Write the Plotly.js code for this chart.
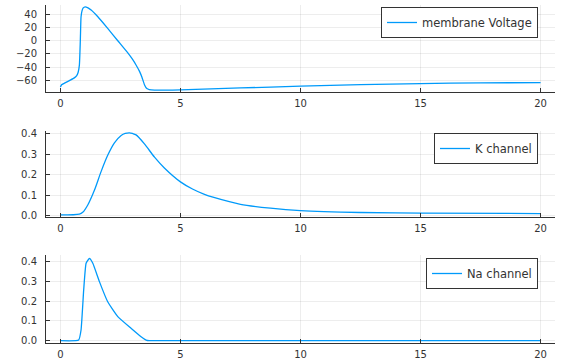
<!DOCTYPE html>
<html>
<head>
<meta charset="utf-8">
<script src="https://cdn.plot.ly/plotly-3.0.1.min.js"></script>
<style>html,body{margin:0;padding:0;background:#fff}#chart{width:567px;height:364px}</style>
</head>
<body>
<div id="chart"></div>
<script>
// Membrane voltage (time, value)
const tV = [0, 0.05, 0.17, 0.375, 0.58, 0.68, 0.74, 0.79, 0.83, 0.86, 0.9, 0.95, 1.03, 1.15, 1.28, 1.56, 1.97, 2.39, 2.8, 3.0, 3.15, 3.3, 3.4, 3.5, 3.6, 3.7, 3.92, 5, 7.5, 10, 12.5, 15, 17.5, 20];
const voltage = [-70.5, -67, -64.7, -60.7, -56.6, -53, -48, -37, 1, 37, 46, 50.5, 52.2, 50.5, 47.2, 37, 19.2, 0.3, -18, -28, -36.8, -47, -56, -67, -73, -74.5, -75.3, -74.8, -72, -69.3, -67, -65.3, -64.3, -63.8];

// K channel
const tK = [0, 0.79, 0.93, 1.14, 1.42, 1.69, 1.97, 2.25, 2.53, 2.7, 2.875, 3.0, 3.15, 3.5, 3.92, 4.33, 5, 5.5, 6, 6.39, 7.5, 8.75, 10, 12.5, 15, 20];
const kChannel = [0.003, 0.007, 0.016, 0.052, 0.125, 0.214, 0.295, 0.356, 0.392, 0.402, 0.405, 0.402, 0.395, 0.351, 0.286, 0.233, 0.165, 0.13, 0.104, 0.089, 0.055, 0.036, 0.024, 0.015, 0.012, 0.010];

// Na channel
const tNa = [0, 0.76, 0.86, 0.97, 1.07, 1.21, 1.35, 1.625, 1.97, 2.39, 2.94, 3.36, 3.57, 3.7, 20];
const naChannel = [0, 0.003, 0.054, 0.257, 0.392, 0.417, 0.392, 0.299, 0.197, 0.122, 0.063, 0.02, 0.003, 0, 0];

const names = ["membrane Voltage", "K channel", "Na channel"];
const xTicks = [0, 5, 10, 15, 20];
const vTicks = [-60, -40, -20, 0, 20, 40];
const chTicks = [0, 0.1, 0.2, 0.3, 0.4];

const lineColor = "#009AFA";
const axisColor = "#333333";
const gridColor = "rgba(0,0,0,0.07)";
const font = {family: "DejaVu Sans", size: 10, color: "#333333"};
const legFont = {family: "DejaVu Sans", size: 11.5, color: "#333333"};

const traces = [
  {x: tV, y: voltage, name: names[0], xaxis: "x", yaxis: "y", legend: "legend", smooth: 0.5},
  {x: tK, y: kChannel, name: names[1], xaxis: "x2", yaxis: "y2", legend: "legend2", smooth: 0.8},
  {x: tNa, y: naChannel, name: names[2], xaxis: "x3", yaxis: "y3", legend: "legend3", smooth: 0.4}
].map(t => {
  const s = t.smooth; delete t.smooth;
  return Object.assign(t, {type: "scatter", mode: "lines", line: {color: lineColor, width: 1.3, shape: "spline", smoothing: s}, showlegend: true});
});

function xa(anchor) {
  return {
    domain: [46/567, 555/567], anchor: anchor, range: [-0.6, 20.6],
    tickvals: xTicks, ticktext: xTicks.map(String),
    showline: true, linecolor: axisColor, linewidth: 1,
    ticks: "inside", ticklen: 4, tickcolor: axisColor,
    showgrid: true, gridcolor: gridColor, gridwidth: 1, zeroline: false,
    tickfont: font, ticklabelstandoff: 2
  };
}
function ya(anchor, dom, range, vals, text) {
  return {
    domain: dom, anchor: anchor, range: range,
    tickvals: vals, ticktext: text,
    showline: true, linecolor: axisColor, linewidth: 1,
    ticks: "inside", ticklen: 4, tickcolor: axisColor,
    showgrid: true, gridcolor: gridColor, gridwidth: 1, zeroline: false,
    tickfont: font, ticklabelstandoff: 6
  };
}
function leg(y) {
  return {x: 538/567, y: y, xanchor: "right", yanchor: "top",
    bgcolor: "#ffffff", bordercolor: axisColor, borderwidth: 1,
    font: legFont, itemwidth: 30, tracegroupgap: 0};
}

const layout = {
  width: 567, height: 364,
  margin: {l: 0, r: 0, t: 0, b: 0},
  paper_bgcolor: "#ffffff", plot_bgcolor: "#ffffff",
  font: font,
  xaxis: xa("y"), xaxis2: xa("y2"), xaxis3: xa("y3"),
  yaxis: ya("x", [1 - 92/364, 1 - 5/364], [-78.2, 55], vTicks, vTicks.map(v => v < 0 ? "\u2212" + Math.abs(v) : String(v))),
  yaxis2: ya("x2", [1 - 217/364, 1 - 131/364], [-0.007, 0.414], chTicks, chTicks.map(v => v.toFixed(1))),
  yaxis3: ya("x3", [1 - 343/364, 1 - 255/364], [-0.012, 0.434], chTicks, chTicks.map(v => v.toFixed(1))),
  legend: leg(1 - 7/364),
  legend2: leg(1 - 133/364),
  legend3: leg(1 - 258/364)
};

Plotly.newPlot("chart", traces, layout, {staticPlot: true, displayModeBar: false});
</script>
</body>
</html>
